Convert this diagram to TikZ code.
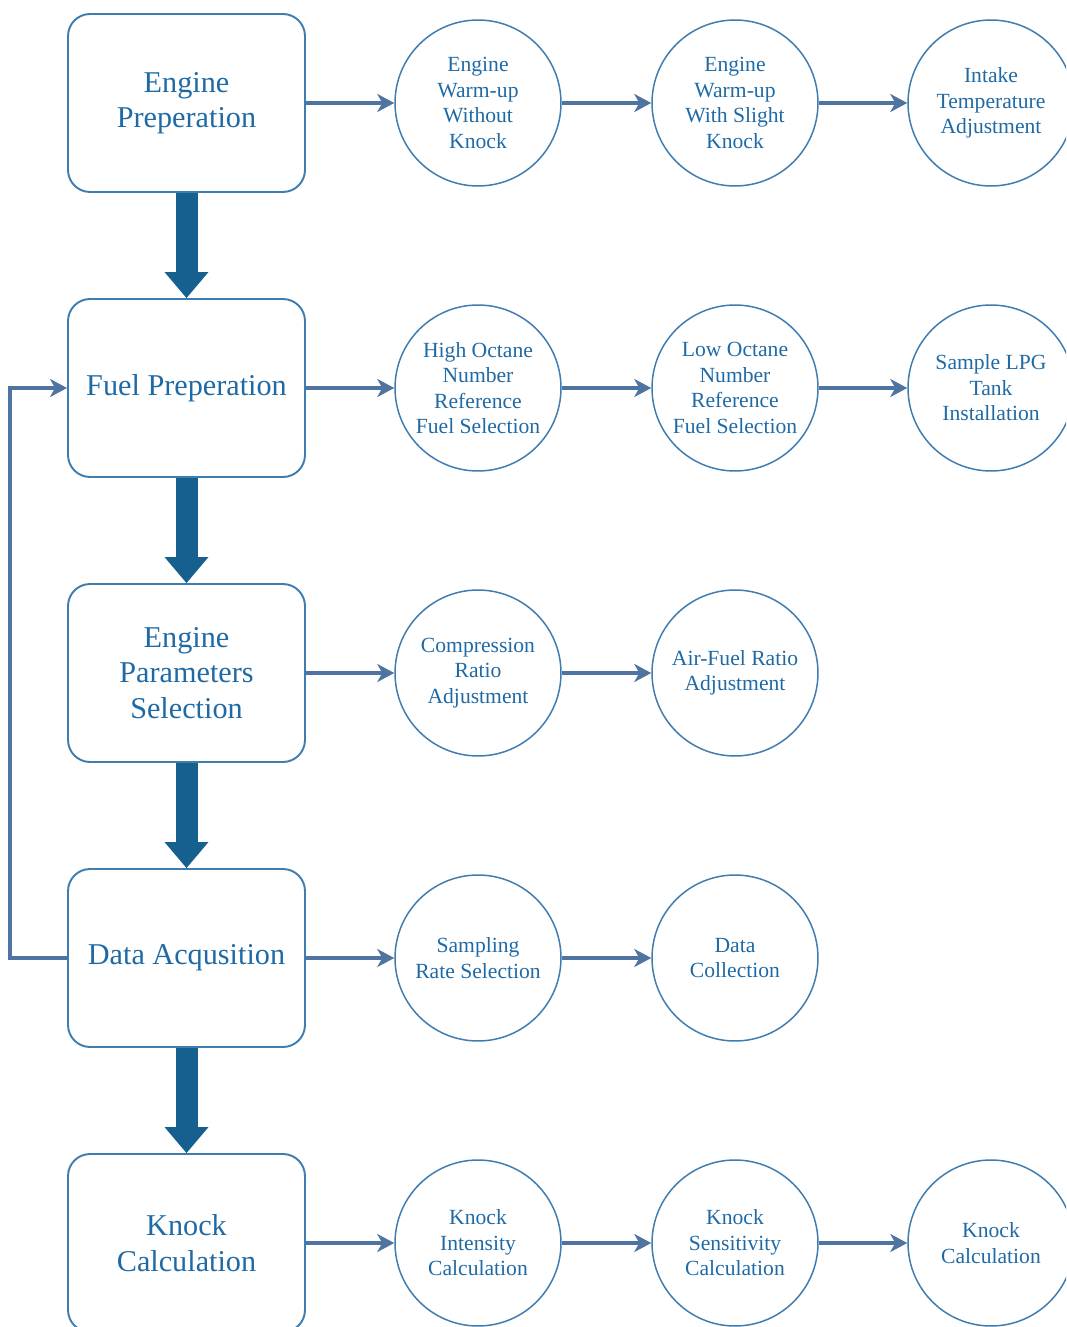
\documentclass[tikz,border=0pt]{standalone}
\usepackage{fontspec}
\setmainfont{Liberation Serif}
\usetikzlibrary{arrows.meta}

\definecolor{labelblue}{HTML}{1F6AA5}
\definecolor{frameblue}{HTML}{3F7CB0}
\definecolor{arrowblue}{HTML}{4F74A2}
\definecolor{darkblue}{HTML}{16608F}

\tikzset{
  stage/.style={draw=frameblue, line width=1.1pt, rounded corners=0.44cm,
    minimum width=4.74cm, minimum height=3.56cm, inner sep=0pt,
    align=center, text=labelblue, font=\fontsize{17.2}{20.2}\selectfont},
  task/.style={circle, draw=frameblue, line width=0.85pt, minimum size=3.32cm,
    inner sep=0pt, align=center, text=labelblue,
    font=\fontsize{12.3}{14.5}\selectfont},
  flow/.style={draw=arrowblue, line width=1.9pt,
    -{Stealth[length=0.34cm, width=0.36cm, inset=0.1cm]}},
  bigflow/.style={draw=darkblue, line width=0.44cm,
    -{Triangle[length=0.52cm, width=0.88cm, line width=0pt]}}
}

\begin{document}
\begin{tikzpicture}[x=0.02cm, y=-0.02cm]
  \useasboundingbox (0,0) rectangle (1066,1327);
  \clip (0,0) rectangle (1066,1327);
  % main stages down the left
  \node[stage] (ep) at (186.5,103)  {Engine\\Preperation};
  \node[stage] (fp) at (186.5,388)  {Fuel Preperation};
  \node[stage] (ps) at (186.5,673)  {Engine\\Parameters\\Selection};
  \node[stage] (da) at (186.5,958)  {Data Acqusition};
  \node[stage] (kc) at (186.5,1243) {Knock\\Calculation};
  % sub-tasks of every stage
  \node[task] (ep1) at (478,103)  {Engine\\Warm-up\\Without\\Knock};
  \node[task] (ep2) at (735,103)  {Engine\\Warm-up\\With Slight\\Knock};
  \node[task] (ep3) at (991,103)  {Intake\\Temperature\\Adjustment};
  \node[task] (fp1) at (478,388)  {High Octane\\Number\\Reference\\Fuel Selection};
  \node[task] (fp2) at (735,388)  {Low Octane\\Number\\Reference\\Fuel Selection};
  \node[task] (fp3) at (991,388)  {Sample LPG\\Tank\\Installation};
  \node[task] (ps1) at (478,673)  {Compression\\Ratio\\Adjustment};
  \node[task] (ps2) at (735,673)  {Air-Fuel Ratio\\Adjustment};
  \node[task] (da1) at (478,958)  {Sampling\\Rate Selection};
  \node[task] (da2) at (735,958)  {Data\\Collection};
  \node[task] (kc1) at (478,1243) {Knock\\Intensity\\Calculation};
  \node[task] (kc2) at (735,1243) {Knock\\Sensitivity\\Calculation};
  \node[task] (kc3) at (991,1243) {Knock\\Calculation};
  % thin arrows along each row
  \foreach \a/\b in {ep/ep1, ep1/ep2, ep2/ep3, fp/fp1, fp1/fp2, fp2/fp3,
      ps/ps1, ps1/ps2, da/da1, da1/da2, kc/kc1, kc1/kc2, kc2/kc3}
    \draw[flow] (\a) -- (\b);
  % thick arrows between stages
  \foreach \a/\b in {ep/fp, fp/ps, ps/da, da/kc}
    \draw[bigflow] (\a.south) -- (\b.north);
  % loop back from data acqusition to fuel preperation
  \draw[flow] (da.west) -- ++(-57,0) |- (fp.west);
\end{tikzpicture}
\end{document}
